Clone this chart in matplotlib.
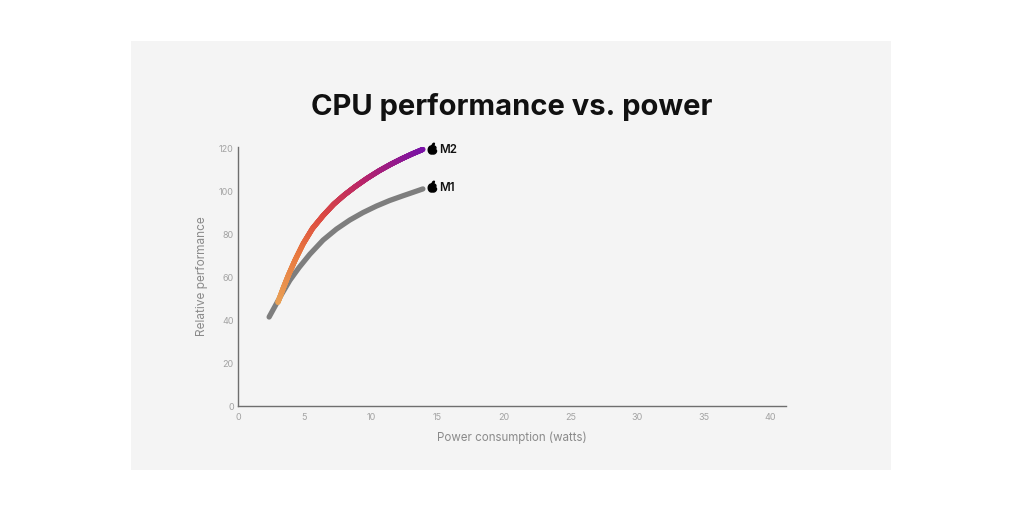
import numpy as np
import matplotlib
matplotlib.use("Agg")
import matplotlib.pyplot as plt
from matplotlib.collections import LineCollection
from matplotlib.colors import LinearSegmentedColormap
from matplotlib.path import Path
from matplotlib.patches import Rectangle

# ---- data ----
m1_watts = [2.34, 2.8, 3.3, 3.9, 4.6, 5.4, 6.4, 7.4, 8.4, 9.4, 10.4, 11.4, 12.4, 13.2, 13.9]
m1_perf = [41.4, 46.6, 52.2, 58.5, 64.5, 70.6, 77.2, 82.3, 86.5, 90.0, 93.0, 95.6, 97.8, 99.5, 101.0]
m2_watts = [3.0, 3.4, 3.8, 4.3, 4.9, 5.6, 6.4, 7.2, 8.0, 8.8, 9.7, 10.6, 11.5, 12.3, 13.1, 13.9]
m2_perf = [48.2, 54.8, 61.0, 68.0, 75.5, 82.6, 88.6, 93.9, 98.2, 102.0, 105.9, 109.4, 112.5, 115.0, 117.3, 119.4]
chip_labels = ["M1", "M2"]
x_ticks = [0, 5, 10, 15, 20, 25, 30, 35, 40]
y_ticks = [0, 20, 40, 60, 80, 100, 120]
title = "CPU performance vs. power"
x_label = "Power consumption (watts)"
y_label = "Relative performance"

FONT = ["Inter", "DejaVu Sans"]
plt.rcParams["font.family"] = FONT

W, H = 1024, 512
fig = plt.figure(figsize=(W / 100, H / 100), dpi=100, facecolor="white")
fig.patches.append(Rectangle((131 / W, 1 - 470 / H), (891 - 131) / W, (470 - 41) / H,
                             transform=fig.transFigure, facecolor="#f4f4f4",
                             edgecolor="none", zorder=-5))

ax = fig.add_axes([238 / W, 1 - 406 / H, (786 - 238) / W, (406 - 147) / H])
ax.set_facecolor("none")
ax.set_xlim(0, 41.2)
ax.set_ylim(0, 120.5)
for s in ["top", "right"]:
    ax.spines[s].set_visible(False)
for s in ["left", "bottom"]:
    ax.spines[s].set_color("#6e6e6e")
    ax.spines[s].set_linewidth(1.0)
ax.set_xticks(x_ticks)
ax.set_yticks(y_ticks)
ax.tick_params(axis="y", length=0, labelsize=6.5, labelcolor="#a3a3a3", pad=3)
ax.tick_params(axis="x", length=0, labelsize=6.5, labelcolor="#a3a3a3", pad=5)
ax.set_xlabel(x_label, fontsize=8.3, color="#8a8a8a", labelpad=7)
ax.set_ylabel(y_label, fontsize=8.5, color="#8a8a8a", labelpad=8)

fig.text(0.5, 1 - 107 / H, title, ha="center", va="center", fontsize=21,
         fontweight="bold", color="#111111")

LW = 3.8
# M1 grey line
ax.plot(m1_watts, m1_perf, color="#7e7e7e", lw=LW, solid_capstyle="round",
        solid_joinstyle="round", zorder=3)

# M2 gradient line: subdivide straight segments for colouring only
xs, ys = [], []
for i in range(len(m2_watts) - 1):
    n = 30
    f = np.linspace(0, 1, n, endpoint=False)
    xs.extend(m2_watts[i] + f * (m2_watts[i + 1] - m2_watts[i]))
    ys.extend(m2_perf[i] + f * (m2_perf[i + 1] - m2_perf[i]))
xs.append(m2_watts[-1]); ys.append(m2_perf[-1])
xs = np.array(xs); ys = np.array(ys)
pts = ax.transData.transform(np.column_stack([xs, ys]))
d = np.concatenate([[0], np.cumsum(np.hypot(*np.diff(pts, axis=0).T))])
d = d / d[-1]
cmap = LinearSegmentedColormap.from_list(
    "m2", [(0, "#e9a257"), (0.25, "#e8783f"), (0.45, "#dc4a42"),
           (0.7, "#b8246a"), (1.0, "#7a12a6")])
segs = np.stack([np.column_stack([xs[:-1], ys[:-1]]),
                 np.column_stack([xs[1:], ys[1:]])], axis=1)
lc = LineCollection(segs, colors=cmap((d[:-1] + d[1:]) / 2), linewidths=LW,
                    capstyle="round", joinstyle="round", zorder=4)
ax.add_collection(lc)

# apple logo marker
t = np.linspace(-np.pi, np.pi, 300)
def bump(c, w):
    dd = np.angle(np.exp(1j * (t - c)))
    return np.exp(-(dd / w) ** 2)
r = 1 - 0.2 * bump(0, 0.35) - 0.1 * bump(np.pi, 0.4) - 0.25 * bump(np.pi / 2 - 0.2, 0.3)
bx = 0.95 * r * np.sin(t)
by = r * np.cos(t) - 0.1
u = np.linspace(0, 2 * np.pi, 60)
lx0, ly0 = 0.16 * np.cos(u), 0.32 * np.sin(u)
ang = np.deg2rad(-40)
lx = lx0 * np.cos(ang) - ly0 * np.sin(ang) + 0.18
ly = lx0 * np.sin(ang) + ly0 * np.cos(ang) + 1.12
apple = Path.make_compound_path(Path(np.column_stack([bx, by])),
                                Path(np.column_stack([lx, ly])))

label_y = [m1_perf[-1] + 0.3, m2_perf[-1] - 0.3]
for name, yy in zip(chip_labels, label_y):
    ax.plot([14.6], [yy + 0.7], marker=apple, markersize=9, color="black",
            linestyle="none", clip_on=False, zorder=5)
    ax.text(15.15, yy, name, fontsize=8.3, fontweight="semibold", color="#111111",
            va="center", ha="left", clip_on=False)

fig.savefig("out.png", dpi=100, facecolor="white")
